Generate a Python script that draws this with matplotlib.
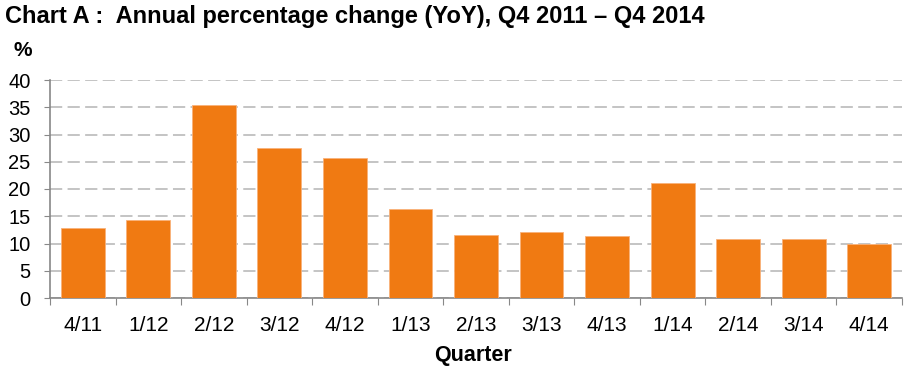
import matplotlib
matplotlib.use("Agg")
import matplotlib.pyplot as plt
import numpy as np

quarters = ["4/11", "1/12", "2/12", "3/12", "4/12", "1/13", "2/13",
            "3/13", "4/13", "1/14", "2/14", "3/14", "4/14"]
yoy_change = [12.9, 14.3, 35.5, 27.5, 25.7, 16.4, 11.6,
              12.1, 11.4, 21.1, 10.9, 10.9, 9.9]
y_ticks = [0, 5, 10, 15, 20, 25, 30, 35, 40]

font = "Liberation Sans"

fig = plt.figure(figsize=(9.09, 3.73), dpi=100)
ax = fig.add_axes([50/909, 1 - 298/373, (902-50)/909, (298-80)/373])

x = np.arange(len(quarters))
ax.bar(x, yoy_change, width=0.67, color="#f07a12", edgecolor="#f9b27a", linewidth=0.6, zorder=3)

ax.set_xlim(-0.5, len(quarters) - 0.5)
ax.set_ylim(0, 40)
ax.set_yticks(y_ticks)
ax.set_yticklabels([str(v) for v in y_ticks], fontsize=14.5, family=font)
ax.yaxis.grid(True, color="#b4b4b4", linestyle=(0, (8, 3.5)), linewidth=1.1, zorder=0)

# ticks between the categories, labels centred under the bars
ax.set_xticks(np.arange(-0.5, len(quarters)))
ax.set_xticklabels([])
ax.set_xticks(x, minor=True)
ax.set_xticklabels(quarters, minor=True, fontsize=15, family=font)
ax.tick_params(axis="x", which="major", length=5, direction="out", color="#888888")
ax.tick_params(axis="x", which="minor", length=0, pad=13)
ax.tick_params(axis="y", length=4, color="#888888", pad=10)

for side in ["top", "right"]:
    ax.spines[side].set_visible(False)
for side in ["left", "bottom"]:
    ax.spines[side].set_color("#888888")
    ax.spines[side].set_linewidth(1.2)

fig.text(5/909, 1 - 17/373, "Chart A :  Annual percentage change (YoY), Q4 2011 \u2013 Q4 2014",
         fontsize=17, fontweight="bold", family=font, va="center", ha="left")
fig.text(13/909, 1 - 51/373, "%", fontsize=15, fontweight="bold", family=font, va="center")
fig.text(473/909, 1 - 355/373, "Quarter", fontsize=15.5, fontweight="bold", family=font,
         va="center", ha="center")

fig.savefig("out.png", dpi=100)
